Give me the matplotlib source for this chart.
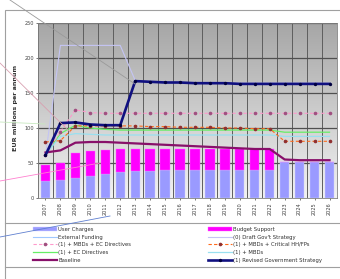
import numpy as np
import matplotlib
matplotlib.use("Agg")
import matplotlib.pyplot as plt
from matplotlib.lines import Line2D
from matplotlib.patches import Rectangle
from matplotlib.colors import LinearSegmentedColormap

years = [str(y) for y in range(2007, 2027)]
user_charges = [24, 26, 29, 31, 34, 37, 38, 39, 40, 40, 40, 40, 40, 40, 40, 40, 52, 52, 52, 52]
budget_support = [23, 24, 35, 36, 34, 33, 32, 31, 30, 30, 30, 30, 30, 30, 30, 30, 0, 0, 0, 0]
external_funding = [0] * 20
draft_strategy = [60, 218, 218, 218, 218, 218, 168, 166, 165, 165, 165, 164, 164, 164, 164, 164, 164, 164, 164, 164]
mbd_ec = [62, 95, 126, 122, 121, 121, 121, 121, 121, 121, 121, 121, 121, 121, 121, 121, 121, 121, 121, 121]
mbd_critical = [80, 82, 103, 103, 103, 103, 103, 102, 102, 101, 101, 101, 100, 100, 99, 99, 81, 81, 81, 81]
ec_dir = [62, 92, 104, 100, 98, 97, 97, 97, 97, 97, 97, 97, 97, 97, 97, 97, 94, 94, 94, 94]
mbds = [62, 88, 92, 91, 90, 90, 90, 90, 90, 90, 90, 90, 90, 90, 90, 90, 88, 88, 88, 88]
baseline = [65, 68, 79, 80, 80, 79, 78, 77, 76, 75, 74, 73, 72, 71, 70, 70, 55, 54, 54, 54]
revised = [61, 107, 108, 105, 104, 104, 167, 166, 165, 165, 164, 164, 164, 163, 163, 163, 163, 163, 163, 163]

W, H = 340, 279
fig = plt.figure(figsize=(W / 100, H / 100), dpi=100)
fig.patch.set_facecolor("white")

def fx(px):
    return px / W

def fy(py):
    return 1 - py / H

# outer frame and legend box lines
fig.add_artist(Rectangle((fx(5), fy(300)), fx(360) - fx(5), fy(10) - fy(300),
                         transform=fig.transFigure, fill=False, ec="#a0a0a0", lw=0.8))
for yy in (223, 267):
    fig.add_artist(Line2D([fx(5), 1.0], [fy(yy), fy(yy)], transform=fig.transFigure,
                          color="#a0a0a0", lw=0.8))

ax = fig.add_axes([fx(38), fy(198), fx(337) - fx(38), fy(23) - fy(198)])
x = np.arange(len(years))
ax.set_xlim(-0.5, len(years) - 0.5)
ax.set_ylim(0, 250)

grad = np.linspace(0, 1, 256).reshape(-1, 1)
cmap = LinearSegmentedColormap.from_list("g", ["#f2f2f2", "#cccccc", "#a6a6a6"])
ax.imshow(grad, cmap=cmap, aspect="auto", extent=[-0.5, len(years) - 0.5, 0, 250],
          origin="lower", zorder=0)

for b in np.arange(-0.5, len(years), 1):
    ax.axvline(b, color="#5e5e5e", lw=0.7, zorder=1)
for yv in (50, 100, 150, 200, 250):
    ax.axhline(yv, color="#505050", lw=0.9, zorder=1)

bw = 0.62
ax.bar(x, user_charges, bw, color="#9a9aff", edgecolor="#d0d0ff", lw=0.3, zorder=2,
       label="User Charges")
ax.bar(x, budget_support, bw, bottom=user_charges, color="#ff00ff", edgecolor="#ff66ff",
       lw=0.3, zorder=2, label="Budget Support")

ax.plot(x, external_funding, color="#a0c8ff", lw=0.8, zorder=3, label="External Funding")
ax.plot(x, draft_strategy, color="#c4c4f4", lw=0.8, zorder=3, label="(0) Draft Gov't Strategy")
ax.plot(x, mbd_ec, color="#ff99cc", lw=0.8, ls=(0, (3, 2)), marker="o", ms=1.6,
        mfc="#a05080", mec="#a05080", zorder=4, label="(1) + MBDs + EC Directives")
ax.plot(x, mbd_critical, color="#ff6a1a", lw=0.8, ls=(0, (3, 2)), marker="o", ms=1.6,
        mfc="#903030", mec="#903030", zorder=4, label="(1) + MBDs + Critical HH/FPs")
ax.plot(x, ec_dir, color="#66ee66", lw=0.9, zorder=3, label="(1) + EC Directives")
ax.plot(x, mbds, color="#99e0f0", lw=0.9, zorder=3, label="(1) + MBDs")
ax.plot(x, baseline, color="#88106a", lw=1.6, zorder=5, label="Baseline")
ax.plot(x, revised, color="#101080", lw=1.9, marker="o", ms=1.4, mfc="#000040",
        mec="#000040", zorder=6, label="(1) Revised Government Strategy")

ax.set_yticks([0, 50, 100, 150, 200, 250])
ax.set_xticks(x)
ax.set_xticklabels(years, rotation=90)
ax.tick_params(axis="both", labelsize=3.6, colors="#404040", length=1.5, width=0.5, pad=1.5)
for s in ax.spines.values():
    s.set_color("#808080")
    s.set_linewidth(0.6)

fig.text(fx(16), fy(108), "EUR millions per annum", rotation=90, ha="center", va="center",
         fontsize=4.6, color="#303030", fontweight="bold")

handles, labels = ax.get_legend_handles_labels()
order = ["User Charges", "External Funding", "(1) + MBDs + EC Directives", "(1) + EC Directives",
         "Baseline", "Budget Support", "(0) Draft Gov't Strategy", "(1) + MBDs + Critical HH/FPs",
         "(1) + MBDs", "(1) Revised Government Strategy"]
hmap = dict(zip(labels, handles))
leg = fig.legend([hmap[o] for o in order], order, ncol=2, loc="upper left",
                 bbox_to_anchor=(fx(33), fy(227)), frameon=False, fontsize=3.8,
                 handlelength=4.5, handletextpad=0.3, columnspacing=14.5, labelspacing=0.5,
                 borderaxespad=0, borderpad=0)
for t in leg.get_texts():
    t.set_color("#303030")

# faint leader lines seen in the reference
for (x0, y0, x1, y1, c) in [(10, 0, 135, 84, "#9a9a9a"), (0, 63, 70, 132, "#d8a0b0"),
                            (0, 181, 100, 163, "#ff80d0"), (0, 237, 110, 216, "#6080d0"),
                            (0, 122, 45, 124, "#c8e8c0")]:
    fig.add_artist(Line2D([fx(x0), fx(x1)], [fy(y0), fy(y1)], transform=fig.transFigure,
                          color=c, lw=0.6, zorder=10))

fig.savefig("out.png", dpi=100, facecolor="white")
